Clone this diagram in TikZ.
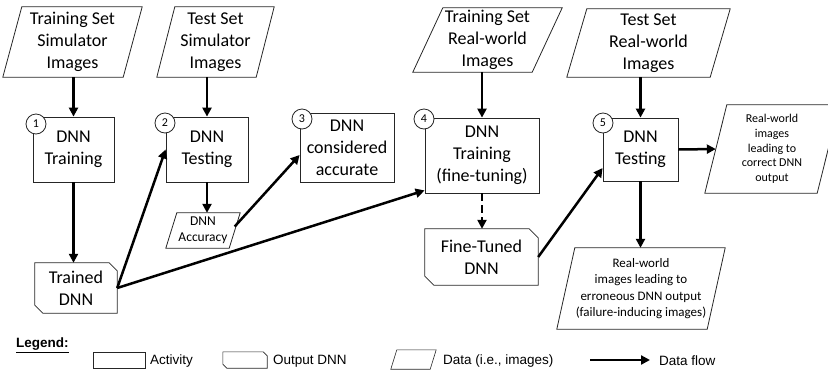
\documentclass[tikz,border=0pt]{standalone}
\usepackage{fontspec}
\setmainfont{Carlito}
\newfontfamily\legendfont{Liberation Sans}
\usetikzlibrary{arrows.meta}
\newcommand\paragram[3][shapeline]{\draw[#1] ([xshift=#3]#2.north west) -- ([xshift=#3]#2.north east) -- ([xshift=-#3]#2.south east) -- ([xshift=-#3]#2.south west) -- cycle;}
\newcommand\chamf[3][shapeline]{\draw[#1] (#2.north west) -- ([xshift=-#3]#2.north east) -- ([yshift=-#3]#2.north east) -- (#2.south east) -- ([xshift=#3]#2.south west) -- ([yshift=#3]#2.south west) -- cycle;}
\begin{document}
\begin{tikzpicture}[x=1pt,y=-1pt,
  shapeline/.style={line width=0.8pt, draw=black!85},
  big/.style={font=\fontsize{18}{22}\selectfont},
  box/.style={draw=black!85, line width=0.8pt, inner sep=0pt, align=center, big},
  data/.style={inner sep=0pt, align=center},
  num/.style={circle, draw=black!85, line width=0.8pt, fill=white, minimum size=20pt, inner sep=0pt,
     font=\fontsize{12}{12}\selectfont},
  flow/.style={line width=2.5pt, -{Triangle[length=9pt,width=9pt]}},
  leg/.style={font=\legendfont\fontsize{13.5}{15}\selectfont, anchor=west, inner sep=0pt},
  legshape/.style={draw=black!85, line width=0.6pt}]
\useasboundingbox (0,0) rectangle (828,373);
\clip (0,0) rectangle (828,373);

% top data
\node[data, big, minimum width=120pt, minimum height=70pt] (p1) at (72.5,42) {Training Set\\Simulator\\Images};
\paragram{p1}{9.5pt}
\node[data, big, minimum width=99pt, minimum height=70pt] (p2) at (215.5,42) {Test Set\\Simulator\\Images};
\paragram{p2}{9pt}
\node[data, big, minimum width=119pt, minimum height=64pt] (p4) at (487.5,40) {Training Set\\Real-world\\Images};
\paragram{p4}{15pt}
\node[data, big, minimum width=143pt, minimum height=68pt] (p5) at (648.5,43) {Test Set\\Real-world\\Images};
\paragram{p5}{10pt}

% activities
\node[box, minimum width=81pt, minimum height=65pt] (b1) at (73.5,149.5) {DNN\\Training};
\node[box, minimum width=82pt, minimum height=65pt] (b2) at (207,149.5) {DNN\\Testing};
\node[box, minimum width=94pt, minimum height=69pt] (b3) at (347,147.5) {DNN\\considered\\accurate};
\node[box, minimum width=114pt, minimum height=75pt] (b4) at (482,155.5) {DNN\\Training\\(fine-tuning)};
\node[box, minimum width=75pt, minimum height=63pt] (b5) at (640.5,149.5) {DNN\\Testing};

\node[num] (n1) at (36,124) {1};
\node[num] (n2) at (165,123) {2};
\node[num] (n3) at (302,119) {3};
\node[num] (n4) at (424,119) {4};
\node[num] (n5) at (603,123) {5};

% outputs
\node[data, big, minimum width=82pt, minimum height=50pt] (tr) at (76,288) {Trained\\DNN};
\chamf{tr}{8pt}
\node[data, big, minimum width=113pt, minimum height=56pt] (ft) at (481.5,257) {Fine-Tuned\\DNN};
\chamf{ft}{9pt}

% other data
\node[data, font=\fontsize{13.5}{16}\selectfont, minimum width=63pt, minimum height=35pt] (acc) at (203,230.5) {DNN\\Accuracy};
\paragram{acc}{5.5pt}
\node[data, font=\fontsize{12}{14.7}\selectfont, minimum width=112pt, minimum height=88pt] (r1) at (772,149) {Real-world\\images\\leading to\\correct DNN\\output};
\paragram{r1}{11pt}
\node[data, font=\fontsize{13}{16.5}\selectfont, minimum width=150pt, minimum height=81pt] (p7) at (641,288.5) {Real-world\\images leading to\\erroneous DNN output\\(failure-inducing images)};
\paragram{p7}{9pt}

% flows
\draw[flow] (p1.south -| b1.north) -- (b1.north);
\draw[flow] (p2.south -| b2.north) -- (b2.north);
\draw[flow] (p4.south -| b4.north) -- (b4.north);
\draw[flow] (p5.south -| b5.north) -- (b5.north);
\draw[flow] (b1.south) -- (b1.south |- tr.north);
\draw[flow] (b2.south) -- (acc.north -| b2.south);
\draw[flow] (tr.east) -- (b2.west);
\draw[flow] (tr.east) -- ([yshift=3pt]b4.south west);
\draw[flow] ([yshift=4pt]acc.east) -- ([yshift=-7.5pt]b3.west);
\draw[flow] (ft.east) -- ([yshift=-18.5pt]b5.west);
\draw[flow] (b5.east) -- (r1.west);
\draw[flow] (b5.south) -- (b5.south |- p7.north);
\draw[flow, dash pattern=on 8pt off 4pt] (b4.south) -- (b4.south |- ft.north);

% legend
\node[leg, font=\legendfont\bfseries\fontsize{13.5}{15}\selectfont] (lt) at (16,345) {\underline{Legend:}};
\node[legshape, inner sep=0pt, minimum width=52pt, minimum height=16pt] (la) at (119,360) {};
\node[leg] (lat) at (150,361) {Activity};
\node[inner sep=0pt, minimum width=44pt, minimum height=16pt] (lo) at (245,360) {};
\chamf[legshape]{lo}{4pt}
\node[leg] (lot) at (273,361) {Output DNN};
\node[inner sep=0pt, minimum width=39pt, minimum height=19pt] (ld) at (413.5,359.5) {};
\paragram[legshape]{ld}{3pt}
\node[leg] (ldt) at (443,361) {Data (i.e., images)};
\coordinate (fa) at (590,360);
\coordinate (fb) at (650,360);
\draw[flow] (fa) -- (fb);
\node[leg] (lft) at (659,361) {Data flow};
\end{tikzpicture}
\end{document}
